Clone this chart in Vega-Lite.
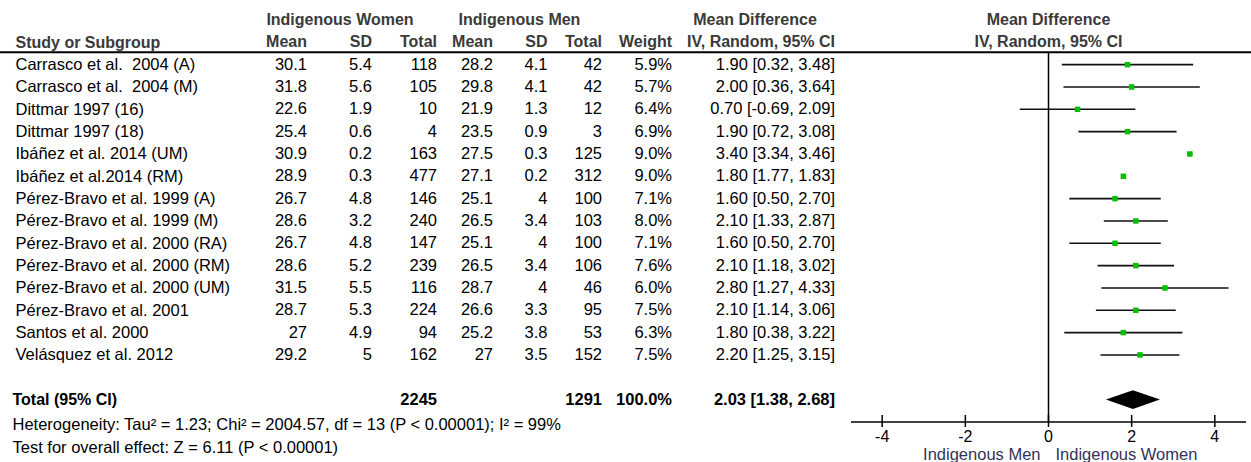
{
  "$schema": "https://vega.github.io/schema/vega-lite/v6.json",
  "width": 1251,
  "height": 462,
  "autosize": {"type": "none"},
  "padding": 0,
  "background": "white",
  "config": {
    "view": {"stroke": null},
    "text": {"font": "Liberation Sans", "fontSize": 16.5},
    "axis": {"labelFont": "Liberation Sans"}
  },
  "datasets": {
    "studies": [
      {"study": "Carrasco et al. \u00a02004 (A)", "wMean": 30.1, "wSD": 5.4, "wN": 118, "mMean": 28.2, "mSD": 4.1, "mN": 42, "weight": 0.059, "md": 1.90, "lo": 0.32, "hi": 3.48, "ci": "1.90 [0.32, 3.48]"},
      {"study": "Carrasco et al. \u00a02004 (M)", "wMean": 31.8, "wSD": 5.6, "wN": 105, "mMean": 29.8, "mSD": 4.1, "mN": 42, "weight": 0.057, "md": 2.00, "lo": 0.36, "hi": 3.64, "ci": "2.00 [0.36, 3.64]"},
      {"study": "Dittmar 1997 (16)", "wMean": 22.6, "wSD": 1.9, "wN": 10, "mMean": 21.9, "mSD": 1.3, "mN": 12, "weight": 0.064, "md": 0.70, "lo": -0.69, "hi": 2.09, "ci": "0.70 [-0.69, 2.09]"},
      {"study": "Dittmar 1997 (18)", "wMean": 25.4, "wSD": 0.6, "wN": 4, "mMean": 23.5, "mSD": 0.9, "mN": 3, "weight": 0.069, "md": 1.90, "lo": 0.72, "hi": 3.08, "ci": "1.90 [0.72, 3.08]"},
      {"study": "Ibáñez et al. 2014 (UM)", "wMean": 30.9, "wSD": 0.2, "wN": 163, "mMean": 27.5, "mSD": 0.3, "mN": 125, "weight": 0.09, "md": 3.40, "lo": 3.34, "hi": 3.46, "ci": "3.40 [3.34, 3.46]"},
      {"study": "Ibáñez et al.2014 (RM)", "wMean": 28.9, "wSD": 0.3, "wN": 477, "mMean": 27.1, "mSD": 0.2, "mN": 312, "weight": 0.09, "md": 1.80, "lo": 1.77, "hi": 1.83, "ci": "1.80 [1.77, 1.83]"},
      {"study": "Pérez-Bravo et al. 1999 (A)", "wMean": 26.7, "wSD": 4.8, "wN": 146, "mMean": 25.1, "mSD": 4, "mN": 100, "weight": 0.071, "md": 1.60, "lo": 0.50, "hi": 2.70, "ci": "1.60 [0.50, 2.70]"},
      {"study": "Pérez-Bravo et al. 1999 (M)", "wMean": 28.6, "wSD": 3.2, "wN": 240, "mMean": 26.5, "mSD": 3.4, "mN": 103, "weight": 0.08, "md": 2.10, "lo": 1.33, "hi": 2.87, "ci": "2.10 [1.33, 2.87]"},
      {"study": "Pérez-Bravo et al. 2000 (RA)", "wMean": 26.7, "wSD": 4.8, "wN": 147, "mMean": 25.1, "mSD": 4, "mN": 100, "weight": 0.071, "md": 1.60, "lo": 0.50, "hi": 2.70, "ci": "1.60 [0.50, 2.70]"},
      {"study": "Pérez-Bravo et al. 2000 (RM)", "wMean": 28.6, "wSD": 5.2, "wN": 239, "mMean": 26.5, "mSD": 3.4, "mN": 106, "weight": 0.076, "md": 2.10, "lo": 1.18, "hi": 3.02, "ci": "2.10 [1.18, 3.02]"},
      {"study": "Pérez-Bravo et al. 2000 (UM)", "wMean": 31.5, "wSD": 5.5, "wN": 116, "mMean": 28.7, "mSD": 4, "mN": 46, "weight": 0.06, "md": 2.80, "lo": 1.27, "hi": 4.33, "ci": "2.80 [1.27, 4.33]"},
      {"study": "Pérez-Bravo et al. 2001", "wMean": 28.7, "wSD": 5.3, "wN": 224, "mMean": 26.6, "mSD": 3.3, "mN": 95, "weight": 0.075, "md": 2.10, "lo": 1.14, "hi": 3.06, "ci": "2.10 [1.14, 3.06]"},
      {"study": "Santos et al. 2000", "wMean": 27, "wSD": 4.9, "wN": 94, "mMean": 25.2, "mSD": 3.8, "mN": 53, "weight": 0.063, "md": 1.80, "lo": 0.38, "hi": 3.22, "ci": "1.80 [0.38, 3.22]"},
      {"study": "Velásquez et al. 2012", "wMean": 29.2, "wSD": 5, "wN": 162, "mMean": 27, "mSD": 3.5, "mN": 152, "weight": 0.075, "md": 2.20, "lo": 1.25, "hi": 3.15, "ci": "2.20 [1.25, 3.15]"},
      {"study": "Total (95% CI)", "wN": 2245, "mN": 1291, "weight": 1.0, "md": 2.03, "lo": 1.38, "hi": 2.68, "ci": "2.03 [1.38, 2.68]"}
    ],
    "colheads": [
      {"grp": "w", "col": "wMean", "label": "Mean"},
      {"grp": "w", "col": "wSD", "label": "SD"},
      {"grp": "w", "col": "wN", "label": "Total"},
      {"grp": "m", "col": "mMean", "label": "Mean"},
      {"grp": "m", "col": "mSD", "label": "SD"},
      {"grp": "m", "col": "mN", "label": "Total"},
      {"grp": "x", "col": "weight", "label": "Weight"},
      {"grp": "x", "col": "ci", "label": "IV, Random, 95% CI"}
    ],
    "groupheads": [
      {"grp": "w", "col": "wSD", "label": "Indigenous Women"},
      {"grp": "m", "col": "mSD", "label": "Indigenous Men"},
      {"grp": "x", "col": "ci", "label": "Mean Difference"}
    ],
    "plothead": [
      {"study": "hdr1", "label": "Mean Difference"},
      {"study": "Study or Subgroup", "label": "IV, Random, 95% CI"}
    ],
    "ticks": [{"v": -4}, {"v": -2}, {"v": 0}, {"v": 2}, {"v": 4}]
  },
  "encoding": {
    "y": {
      "field": "study",
      "type": "nominal",
      "scale": {
        "type": "point",
        "domain": ["hdr1", "Study or Subgroup",
          "Carrasco et al. \u00a02004 (A)", "Carrasco et al. \u00a02004 (M)", "Dittmar 1997 (16)", "Dittmar 1997 (18)",
          "Ibáñez et al. 2014 (UM)", "Ibáñez et al.2014 (RM)", "Pérez-Bravo et al. 1999 (A)", "Pérez-Bravo et al. 1999 (M)",
          "Pérez-Bravo et al. 2000 (RA)", "Pérez-Bravo et al. 2000 (RM)", "Pérez-Bravo et al. 2000 (UM)", "Pérez-Bravo et al. 2001",
          "Santos et al. 2000", "Velásquez et al. 2012", "blank", "Total (95% CI)",
          "Heterogeneity: Tau² = 1.23; Chi² = 2004.57, df = 13 (P < 0.00001); I² = 99%",
          "Test for overall effect: Z = 6.11 (P < 0.00001)"],
        "padding": 0.845,
        "align": 0.53
      },
      "axis": {
        "title": null,
        "orient": "left",
        "domain": false,
        "ticks": false,
        "tickSize": 0,
        "labelAlign": "left",
        "labelBaseline": "middle",
        "labelFontSize": {"condition": {"test": "datum.value === 'Study or Subgroup' || datum.value === 'Total (95% CI)'", "value": 16}, "value": 16.5},
        "labelLimit": 0,
        "labelOverlap": false,
        "labelBound": false,
        "labelPadding": {"condition": {"test": "datum.value === 'Total (95% CI)' || indexof(datum.value, 'Heterogeneity') === 0 || indexof(datum.value, 'Test for') === 0", "value": -12}, "value": -15},
        "labelOffset": {"condition": {"test": "indexof(datum.value, 'Heterogeneity') === 0 || indexof(datum.value, 'Test for') === 0", "value": 3}, "value": 0},
        "labelFontWeight": {"condition": {"test": "datum.value === 'Study or Subgroup' || datum.value === 'Total (95% CI)'", "value": "bold"}, "value": "normal"},
        "labelColor": {"condition": {"test": "datum.value === 'Study or Subgroup'", "value": "#3a3a3a"}, "value": "#000000"},
        "labelExpr": "datum.value === 'hdr1' || datum.value === 'blank' ? '' : datum.value"
      }
    }
  },
  "layer": [
    {
      "data": {"values": [{"line": "header"}]},
      "mark": {"type": "rule", "color": "#000000", "strokeWidth": 2, "yOffset": 10},
      "encoding": {"x": {"value": 0}, "x2": {"value": "width"}, "y": {"datum": "Study or Subgroup"}}
    },
    {
      "data": {"name": "studies"},
      "transform": [{"fold": ["wMean", "wSD", "wN"], "as": ["col", "val"]}, {"filter": "isValid(datum.val)"}],
      "mark": {"type": "text", "align": "right", "baseline": "middle", "color": "#000000", "fontWeight": {"expr": "datum.study === 'Total (95% CI)' ? 'bold' : 'normal'"}},
      "encoding": {
        "x": {"field": "col", "type": "nominal", "scale": {"type": "point", "domain": ["wMean", "wSD", "wN"], "range": [307, 437], "padding": 0}, "axis": null},
        "text": {"field": "val", "type": "nominal"}
      }
    },
    {
      "data": {"name": "colheads"},
      "transform": [{"filter": "datum.grp === 'w'"}],
      "mark": {"type": "text", "align": "right", "baseline": "middle", "fontWeight": "bold", "fontSize": 16, "color": "#3a3a3a"},
      "encoding": {
        "x": {"field": "col", "type": "nominal", "scale": {"type": "point", "domain": ["wMean", "wSD", "wN"], "range": [307, 437], "padding": 0}, "axis": null},
        "y": {"datum": "Study or Subgroup"},
        "text": {"field": "label", "type": "nominal"}
      }
    },
    {
      "data": {"name": "groupheads"},
      "transform": [{"filter": "datum.grp === 'w'"}],
      "mark": {"type": "text", "align": "center", "baseline": "middle", "fontWeight": "bold", "fontSize": 16, "color": "#3a3a3a", "dx": -32},
      "encoding": {
        "x": {"field": "col", "type": "nominal", "scale": {"type": "point", "domain": ["wMean", "wSD", "wN"], "range": [307, 437], "padding": 0}, "axis": null},
        "y": {"datum": "hdr1"},
        "text": {"field": "label", "type": "nominal"}
      }
    },
    {
      "data": {"name": "studies"},
      "transform": [{"fold": ["mMean", "mSD", "mN"], "as": ["col", "val"]}, {"filter": "isValid(datum.val)"}],
      "mark": {"type": "text", "align": "right", "baseline": "middle", "color": "#000000", "fontWeight": {"expr": "datum.study === 'Total (95% CI)' ? 'bold' : 'normal'"}},
      "encoding": {
        "x": {"field": "col", "type": "nominal", "scale": {"type": "point", "domain": ["mMean", "mSD", "mN"], "range": [493, 602], "padding": 0}, "axis": null},
        "text": {"field": "val", "type": "nominal"}
      }
    },
    {
      "data": {"name": "colheads"},
      "transform": [{"filter": "datum.grp === 'm'"}],
      "mark": {"type": "text", "align": "right", "baseline": "middle", "fontWeight": "bold", "fontSize": 16, "color": "#3a3a3a"},
      "encoding": {
        "x": {"field": "col", "type": "nominal", "scale": {"type": "point", "domain": ["mMean", "mSD", "mN"], "range": [493, 602], "padding": 0}, "axis": null},
        "y": {"datum": "Study or Subgroup"},
        "text": {"field": "label", "type": "nominal"}
      }
    },
    {
      "data": {"name": "groupheads"},
      "transform": [{"filter": "datum.grp === 'm'"}],
      "mark": {"type": "text", "align": "center", "baseline": "middle", "fontWeight": "bold", "fontSize": 16, "color": "#3a3a3a", "dx": -28},
      "encoding": {
        "x": {"field": "col", "type": "nominal", "scale": {"type": "point", "domain": ["mMean", "mSD", "mN"], "range": [493, 602], "padding": 0}, "axis": null},
        "y": {"datum": "hdr1"},
        "text": {"field": "label", "type": "nominal"}
      }
    },
    {
      "data": {"name": "studies"},
      "mark": {"type": "text", "align": "right", "baseline": "middle", "color": "#000000", "fontWeight": {"expr": "datum.study === 'Total (95% CI)' ? 'bold' : 'normal'"}},
      "encoding": {
        "x": {"datum": "weight", "type": "nominal", "scale": {"type": "point", "domain": ["weight", "ci"], "range": [672, 835], "padding": 0}, "axis": null},
        "text": {"field": "weight", "type": "quantitative", "format": ".1%"}
      }
    },
    {
      "data": {"name": "studies"},
      "mark": {"type": "text", "align": "right", "baseline": "middle", "color": "#000000", "fontWeight": {"expr": "datum.study === 'Total (95% CI)' ? 'bold' : 'normal'"}},
      "encoding": {
        "x": {"datum": "ci", "type": "nominal", "scale": {"type": "point", "domain": ["weight", "ci"], "range": [672, 835], "padding": 0}, "axis": null},
        "text": {"field": "ci", "type": "nominal"}
      }
    },
    {
      "data": {"name": "colheads"},
      "transform": [{"filter": "datum.grp === 'x'"}],
      "mark": {"type": "text", "align": "right", "baseline": "middle", "fontWeight": "bold", "fontSize": 16, "color": "#3a3a3a"},
      "encoding": {
        "x": {"field": "col", "type": "nominal", "scale": {"type": "point", "domain": ["weight", "ci"], "range": [672, 835], "padding": 0}, "axis": null},
        "y": {"datum": "Study or Subgroup"},
        "text": {"field": "label", "type": "nominal"}
      }
    },
    {
      "data": {"name": "groupheads"},
      "transform": [{"filter": "datum.grp === 'x'"}],
      "mark": {"type": "text", "align": "center", "baseline": "middle", "fontWeight": "bold", "fontSize": 16, "color": "#3a3a3a", "dx": -80},
      "encoding": {
        "x": {"field": "col", "type": "nominal", "scale": {"type": "point", "domain": ["weight", "ci"], "range": [672, 835], "padding": 0}, "axis": null},
        "y": {"datum": "hdr1"},
        "text": {"field": "label", "type": "nominal"}
      }
    },
    {
      "data": {"name": "plothead"},
      "mark": {"type": "text", "align": "center", "baseline": "middle", "fontWeight": "bold", "fontSize": 16, "color": "#3a3a3a"},
      "encoding": {
        "x": {"datum": 0, "type": "quantitative", "scale": {"type": "linear", "domain": [-4.75, 4.75], "range": [851, 1246], "nice": false, "zero": false}, "axis": null},
        "text": {"field": "label", "type": "nominal"}
      }
    },
    {
      "data": {"values": [{"line": "zero"}]},
      "mark": {"type": "rule", "color": "#000000", "strokeWidth": 1.5, "yOffset": 10},
      "encoding": {
        "x": {"datum": 0, "type": "quantitative", "scale": {"type": "linear", "domain": [-4.75, 4.75], "range": [851, 1246], "nice": false, "zero": false}, "axis": null},
        "y": {"datum": "Study or Subgroup"},
        "y2": {"datum": "Heterogeneity: Tau² = 1.23; Chi² = 2004.57, df = 13 (P < 0.00001); I² = 99%"}
      }
    },
    {
      "data": {"name": "studies"},
      "transform": [{"filter": "datum.study !== 'Total (95% CI)'"}],
      "mark": {"type": "rule", "color": "#111111", "strokeWidth": 1.6},
      "encoding": {
        "x": {"field": "lo", "type": "quantitative", "scale": {"type": "linear", "domain": [-4.75, 4.75], "range": [851, 1246], "nice": false, "zero": false}, "axis": null},
        "x2": {"field": "hi"}
      }
    },
    {
      "data": {"name": "studies"},
      "transform": [{"filter": "datum.study !== 'Total (95% CI)'"}],
      "mark": {"type": "point", "shape": "square", "filled": true, "color": "#00c000", "size": 30, "opacity": 1},
      "encoding": {
        "x": {"field": "md", "type": "quantitative", "scale": {"type": "linear", "domain": [-4.75, 4.75], "range": [851, 1246], "nice": false, "zero": false}, "axis": null}
      }
    },
    {
      "data": {"name": "studies"},
      "transform": [{"filter": "datum.study === 'Total (95% CI)'"}],
      "mark": {"type": "point", "shape": "M-1,0L0,-0.35L1,0L0,0.35Z", "filled": true, "color": "#000000", "size": 2916, "opacity": 1},
      "encoding": {
        "x": {"field": "md", "type": "quantitative", "scale": {"type": "linear", "domain": [-4.75, 4.75], "range": [851, 1246], "nice": false, "zero": false}, "axis": null}
      }
    },
    {
      "data": {"values": [{"line": "axis"}]},
      "mark": {"type": "rule", "color": "#000000", "strokeWidth": 1.5},
      "encoding": {
        "x": {"datum": -4.75, "type": "quantitative", "scale": {"type": "linear", "domain": [-4.75, 4.75], "range": [851, 1246], "nice": false, "zero": false}, "axis": null},
        "x2": {"datum": 4.75},
        "y": {"datum": "Heterogeneity: Tau² = 1.23; Chi² = 2004.57, df = 13 (P < 0.00001); I² = 99%"}
      }
    },
    {
      "data": {"name": "ticks"},
      "mark": {"type": "rule", "color": "#000000", "strokeWidth": 1.5, "yOffset": -7, "y2Offset": 5},
      "encoding": {
        "x": {"field": "v", "type": "quantitative", "scale": {"type": "linear", "domain": [-4.75, 4.75], "range": [851, 1246], "nice": false, "zero": false}, "axis": null},
        "y": {"datum": "Heterogeneity: Tau² = 1.23; Chi² = 2004.57, df = 13 (P < 0.00001); I² = 99%"},
        "y2": {"datum": "Heterogeneity: Tau² = 1.23; Chi² = 2004.57, df = 13 (P < 0.00001); I² = 99%"}
      }
    },
    {
      "data": {"name": "ticks"},
      "mark": {"type": "text", "align": "center", "baseline": "middle", "color": "#000000", "fontSize": 16, "dy": 15},
      "encoding": {
        "x": {"field": "v", "type": "quantitative", "scale": {"type": "linear", "domain": [-4.75, 4.75], "range": [851, 1246], "nice": false, "zero": false}, "axis": null},
        "y": {"datum": "Heterogeneity: Tau² = 1.23; Chi² = 2004.57, df = 13 (P < 0.00001); I² = 99%"},
        "text": {"field": "v", "type": "nominal"}
      }
    },
    {
      "data": {"values": [{"label": "Indigenous Men"}]},
      "mark": {"type": "text", "align": "right", "baseline": "middle", "color": "#33335a", "fontSize": 16.5, "dx": -8, "dy": 11},
      "encoding": {
        "x": {"datum": 0, "type": "quantitative", "scale": {"type": "linear", "domain": [-4.75, 4.75], "range": [851, 1246], "nice": false, "zero": false}, "axis": null},
        "y": {"datum": "Test for overall effect: Z = 6.11 (P < 0.00001)"},
        "text": {"field": "label", "type": "nominal"}
      }
    },
    {
      "data": {"values": [{"label": "Indigenous Women"}]},
      "mark": {"type": "text", "align": "left", "baseline": "middle", "color": "#33335a", "fontSize": 16.5, "dx": 7, "dy": 11},
      "encoding": {
        "x": {"datum": 0, "type": "quantitative", "scale": {"type": "linear", "domain": [-4.75, 4.75], "range": [851, 1246], "nice": false, "zero": false}, "axis": null},
        "y": {"datum": "Test for overall effect: Z = 6.11 (P < 0.00001)"},
        "text": {"field": "label", "type": "nominal"}
      }
    }
  ],
  "resolve": {"scale": {"x": "independent"}}
}
